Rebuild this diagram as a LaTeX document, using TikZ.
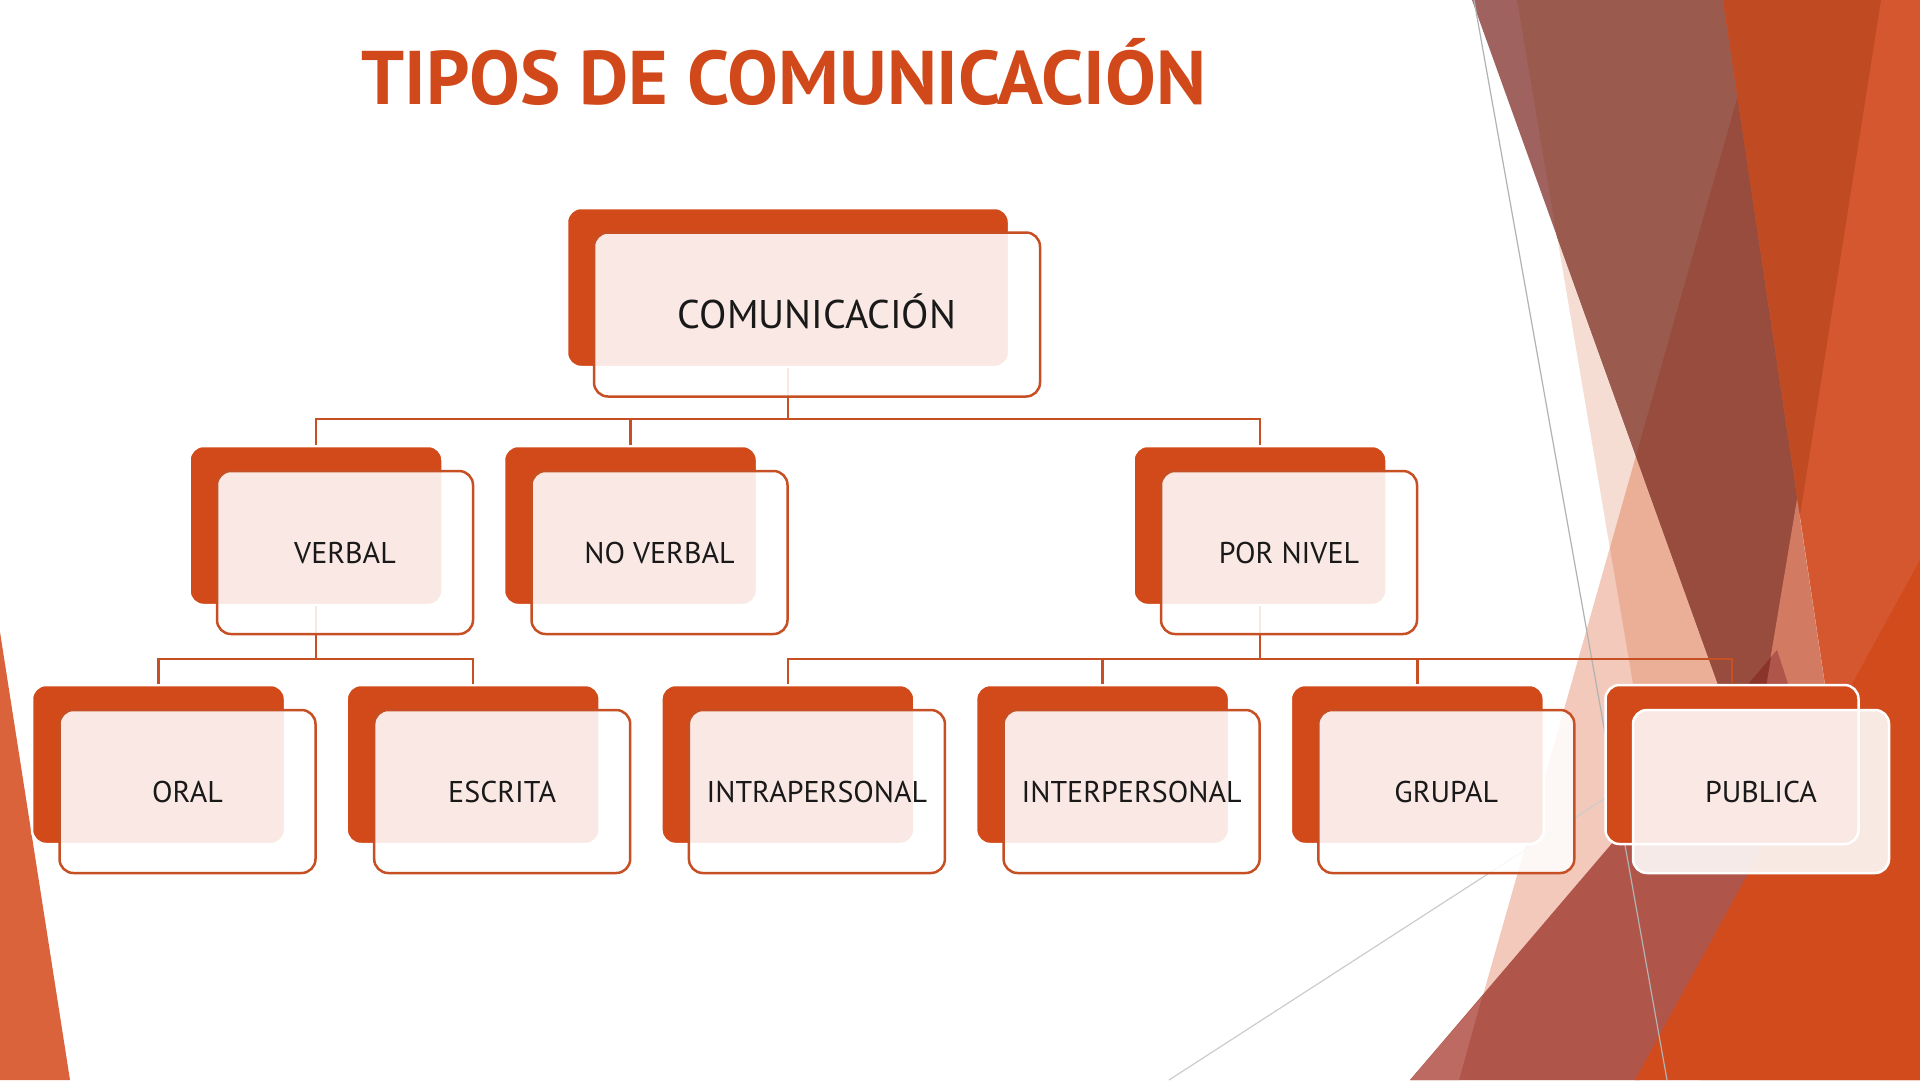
\documentclass[tikz,border=0pt]{standalone}
\usepackage{fontspec}
\setmainfont{PT Sans}
\definecolor{facetorange}{RGB}{210, 74, 26}
\definecolor{lineorange}{RGB}{198, 80, 36}
\definecolor{titleorange}{RGB}{209, 73, 27}
\definecolor{bgpale}{RGB}{246, 221, 211}
\definecolor{bgpink}{RGB}{242, 201, 186}
\definecolor{bgsalmon}{RGB}{235, 174, 151}
\definecolor{bgmauve}{RGB}{160, 98, 94}
\definecolor{bgbrown}{RGB}{155, 90, 78}
\definecolor{bgdark}{RGB}{151, 76, 61}
\definecolor{bgdeep}{RGB}{139, 52, 41}
\definecolor{bgorange}{RGB}{212, 87, 47}
\definecolor{bgred}{RGB}{192, 74, 34}
\definecolor{bgcoral}{RGB}{210, 122, 98}
\definecolor{bgrust}{RGB}{176, 85, 74}
\definecolor{bgrose}{RGB}{189, 106, 98}
\definecolor{bgflame}{RGB}{210, 75, 28}
\definecolor{bgwedge}{RGB}{218, 99, 60}
\usetikzlibrary{calc}

\begin{document}
\begin{tikzpicture}[x=1pt, y=-1pt,
  backbox/.style={fill=facetorange, draw=white, line width=2.5pt, rounded corners=14pt,
    minimum width=253pt, minimum height=159pt, inner sep=0pt},
  frontbox/.style={fill=white, fill opacity=0.88, text opacity=1, draw=lineorange,
    line width=2.5pt, rounded corners=14pt, minimum width=256pt, minimum height=163pt,
    inner sep=0pt, text height=21pt, text depth=0pt, text=black!90,
    font=\fontsize{30}{36}\selectfont},
  conn/.style={draw=lineorange, line width=2.5pt}]

  \useasboundingbox (0,0) rectangle (1920,1080);
  \fill[white] (0,0) rectangle (1920,1080);

  % Facet background
  \fill[bgpale] (1517,0) -- (1881,0) -- (1700,1080) -- cycle;
  \fill[bgpink] (1459,1080) -- (1765,0) -- (1920,0) -- (1920,1080) -- cycle;
  \fill[bgsalmon] (1765,0) -- (1881,0) -- (1700,1080) -- (1610,548) -- cycle;
  \fill[bgmauve] (1472,0) -- (1881,0) -- (1756,790) -- cycle;
  \fill[bgbrown] (1517,0) -- (1881,0) -- (1751,776) -- (1557,237) -- cycle;
  \fill[bgdark] (1765,0) -- (1881,0) -- (1751,776) -- (1636,456) -- cycle;
  \fill[bgorange] (1723,0) -- (1920,0) -- (1920,1080) -- (1884,1080) -- cycle;
  \fill[bgred] (1723,0) -- (1881,0) -- (1800,515) -- cycle;
  \fill[bgcoral] (1797,499) -- (1884,1080) -- (1700,1080) -- cycle;
  \fill[bgrust] (1410,1080) -- (1777,650) -- (1790,690) -- (1840,760) -- (1640,1080) -- cycle;
  \fill[bgrose] (1410,1080) -- (1459,1080) -- (1482,997) -- cycle;
  \fill[bgdeep] (1727,709) -- (1771,657) -- (1751,776) -- cycle;
  \fill[bgflame] (1920,560) -- (1635,1080) -- (1920,1080) -- cycle;
  \fill[bgwedge] (0,632) -- (70,1080) -- (0,1080) -- cycle;
  \draw[black!30, line width=1.2pt] (1474,0) -- (1667,1080);
  \draw[black!20, line width=1.2pt] (1169,1080) -- (1610,795);

  % Title
  \node[font=\fontsize{76}{90}\selectfont\bfseries, text=titleorange, anchor=base]
    (title) at (784,104) {TIPOS DE COMUNICACIÓN};

  % Bus points
  \coordinate (bus1) at (788,419);
  \coordinate (bus2) at (316,659);
  \coordinate (bus3) at (1260,659);

  % Back boxes
  \node[backbox, minimum width=442pt] (comB) at (788,287.5) {};
  \node[backbox] (verbalB) at (316,525.5) {};
  \node[backbox] (noverbalB) at (630.5,525.5) {};
  \node[backbox] (porB) at (1260,525.5) {};
  \node[backbox] (oralB) at (158.5,764.5) {};
  \node[backbox] (escritaB) at (473.2,764.5) {};
  \node[backbox] (intraB) at (787.9,764.5) {};
  \node[backbox] (interB) at (1102.6,764.5) {};
  \node[backbox] (grupalB) at (1417.3,764.5) {};
  \node[backbox] (publicaB) at (1732,764.5) {};

  % Connectors
  \draw[conn] (comB.south) -- (bus1);
  \draw[conn] (verbalB.north) -- (verbalB.north |- bus1) -- (porB.north |- bus1) -- (porB.north);
  \draw[conn] (noverbalB.north) -- (noverbalB.north |- bus1);
  \draw[conn] (verbalB.south) -- (bus2);
  \draw[conn] (oralB.north) -- (oralB.north |- bus2) -- (escritaB.north |- bus2) -- (escritaB.north);
  \draw[conn] (porB.south) -- (bus3);
  \draw[conn] (intraB.north) -- (intraB.north |- bus3) -- (publicaB.north |- bus3) -- (publicaB.north);
  \draw[conn] (interB.north) -- (interB.north |- bus3);
  \draw[conn] (grupalB.north) -- (grupalB.north |- bus3);

  % Front boxes
  \node[frontbox, minimum width=446pt, minimum height=164pt, text height=28pt,
    font=\fontsize{40}{48}\selectfont]
    (com) at ([shift={(29,27)}]comB.center) {COMUNICACIÓN};
  \node[frontbox] (verbal) at ([shift={(29,27)}]verbalB.center) {VERBAL};
  \node[frontbox] (noverbal) at ([shift={(29,27)}]noverbalB.center) {NO VERBAL};
  \node[frontbox] (por) at ([shift={(29,27)}]porB.center) {POR NIVEL};
  \node[frontbox] (oral) at ([shift={(29,27)}]oralB.center) {ORAL};
  \node[frontbox] (escrita) at ([shift={(29,27)}]escritaB.center) {ESCRITA};
  \node[frontbox] (intra) at ([shift={(29,27)}]intraB.center) {INTRAPERSONAL};
  \node[frontbox] (inter) at ([shift={(29,27)}]interB.center) {INTERPERSONAL};
  \node[frontbox] (grupal) at ([shift={(29,27)}]grupalB.center) {GRUPAL};
  \node[frontbox, draw=white] (publica) at ([shift={(29,27)}]publicaB.center) {PUBLICA};
\end{tikzpicture}
\end{document}
